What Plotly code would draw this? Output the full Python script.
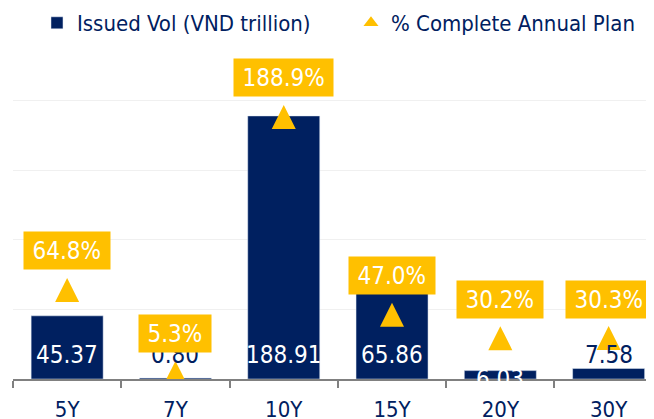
import plotly.graph_objects as go

# ---- data ----
tenors = ["5Y", "7Y", "10Y", "15Y", "20Y", "30Y"]
issued_vol = [45.37, 0.80, 188.91, 65.86, 6.03, 7.58]
pct_plan = [64.8, 5.3, 188.9, 47.0, 30.2, 30.3]

# ---- styles ----
NAVY = "#002060"
GOLD = "#FFC000"
FONT = "DejaVu Sans Condensed, DejaVu Sans, sans-serif"
bar_label_colors = ["white", NAVY, "white", "white", "white", NAVY]
bar_label_shift = [24, 24, 24, 24, 0, 24]

fig = go.Figure()
fig.add_trace(go.Bar(
    x=tenors, y=issued_vol, name="Issued Vol (VND trillion)",
    marker=dict(color=NAVY), width=0.665,
))
fig.add_trace(go.Scatter(
    x=tenors, y=pct_plan, yaxis="y2", mode="markers", showlegend=False,
    marker=dict(symbol="arrow-up", size=24, color=GOLD),
))
# legend entry for the triangle series
fig.add_trace(go.Scatter(
    x=[None], y=[None], yaxis="y2", mode="markers",
    name="% Complete Annual Plan",
    marker=dict(symbol="triangle-up", size=13, color=GOLD),
))

annotations = []
for t, v, c, s in zip(tenors, issued_vol, bar_label_colors, bar_label_shift):
    annotations.append(dict(
        x=t, y=0, xref="x", yref="y", text=f"{v:.2f}", showarrow=False,
        yshift=s, font=dict(family=FONT, size=24, color=c),
    ))
for t, v in zip(tenors, pct_plan):
    annotations.append(dict(
        x=t, y=v, xref="x", yref="y2", text=f"{v:.1f}%", showarrow=False,
        yshift=27, bgcolor=GOLD, borderpad=8.5, height=20,
        font=dict(family=FONT, size=24, color="white"),
    ))

# page body has an 8px default margin, so the figure is sized to fit the window
fig.update_layout(
    width=646, height=411,
    margin=dict(l=5, r=0, t=23, b=40, autoexpand=False),
    paper_bgcolor="white", plot_bgcolor="white",
    font=dict(family=FONT, color=NAVY),
    showlegend=True,
    legend=dict(
        orientation="h", x=0.0374, xanchor="left", y=1.023, yanchor="middle",
        font=dict(family=FONT, size=22, color=NAVY),
        entrywidth=269, bgcolor="rgba(0,0,0,0)",
    ),
    xaxis=dict(
        type="category", range=[-0.5, 5.419],
        showline=True, linecolor="#808080", linewidth=1.5,
        ticks="outside", tickson="boundaries", ticklen=7,
        tickcolor="#808080", tickwidth=1.5,
        tickfont=dict(family=FONT, size=22, color=NAVY),
        ticklabelstandoff=10,
        showgrid=False,
    ),
    yaxis=dict(
        range=[0, 249.9], dtick=50, showticklabels=False,
        showgrid=True, gridcolor="#F0F0F0", gridwidth=1, zeroline=False,
    ),
    yaxis2=dict(
        overlaying="y", range=[-7.7, 241.9], visible=False,
    ),
    annotations=annotations,
    bargap=0.335,
)

fig.write_html("out.html")
